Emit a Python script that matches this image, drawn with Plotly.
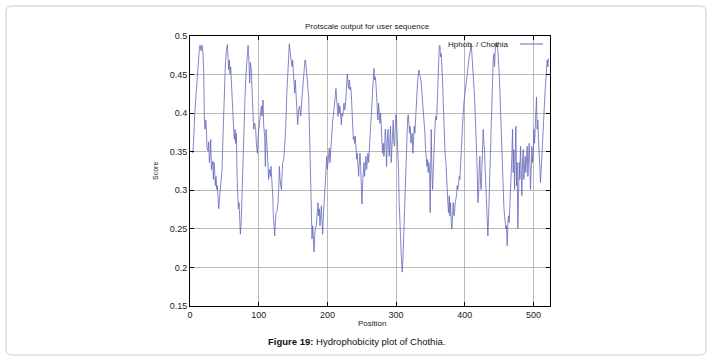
import plotly.graph_objects as go

# ---- data (position, Chothia hydrophobicity score) ----
positions = [
    4.0, 5.4, 6.9, 8.3, 9.3, 10.8, 12.2, 13.7, 14.6, 16.1, 17.1, 18.0, 19.0, 20.0, 20.9, 21.9, 22.9, 23.9,
    24.8, 26.3, 27.3, 28.2, 29.2, 30.2, 31.1, 32.1, 33.1, 34.0, 35.0, 36.0, 36.9, 37.9, 38.9, 39.8, 40.8,
    41.8, 42.8, 43.7, 44.7, 45.7, 46.6, 47.6, 48.6, 49.5, 50.5, 51.5, 53.0, 54.4, 55.4, 56.3, 57.3, 58.3,
    59.2, 60.2, 61.2, 62.1, 63.6, 64.6, 65.5, 66.5, 67.5, 68.5, 69.4, 70.4, 71.4, 72.3, 73.3, 74.3, 75.2,
    76.2, 77.2, 78.6, 80.1, 81.5, 83.0, 84.5,
    85.4, 86.9, 87.9, 89.3, 90.3, 91.3, 92.7, 94.2, 95.6, 96.6, 98.1, 99.5, 101.0, 102.4, 103.9, 104.8,
    106.3, 107.3, 108.7, 109.7, 110.7, 112.1, 113.6, 114.5, 115.5, 117.0, 117.9, 119.4, 120.4, 121.3,
    122.3, 123.3, 124.2, 125.2, 126.7, 128.1, 129.1, 130.1, 131.0, 132.0, 133.0, 133.9, 134.9, 136.4,
    137.8, 139.3, 140.7, 142.2, 143.6, 144.6, 145.6, 147.0, 148.5, 149.4, 150.4, 151.4, 152.4, 153.3,
    154.3, 155.7, 156.7, 158.2, 159.6, 161.1, 162.0, 163.5, 165.0, 166.4, 167.4, 168.8, 170.3, 171.7,
    172.7, 173.7, 175.0,
    175.7, 176.6, 177.6, 178.6, 179.5, 180.5, 181.5, 182.4, 183.9, 185.4, 186.3, 187.3, 188.3, 189.2,
    190.2, 191.2, 192.1, 193.1, 194.1, 195.0, 196.0, 197.0, 198.0, 198.9, 199.9, 200.9, 201.8, 202.8,
    203.8, 204.7, 205.7, 206.7, 207.7, 208.6, 209.6, 210.6, 211.5, 212.5, 213.5, 214.4, 215.4, 216.4,
    217.4, 218.3, 219.3, 220.3, 221.2, 222.2, 223.2, 224.1, 225.1, 226.1, 227.0, 228.0, 229.0, 230.0,
    230.9, 231.9, 232.9, 233.8, 234.8, 235.8, 236.7, 237.7, 238.7, 239.7, 240.6, 241.6, 242.6, 243.5,
    244.5, 245.5, 246.4, 247.4, 248.4, 249.3, 250.3, 251.3, 252.3, 253.2, 254.2, 255.2, 256.1, 257.1,
    258.1, 259.0, 260.0, 261.0, 262.0,
    262.9, 263.8, 264.8, 265.8, 266.7, 267.7, 268.7, 269.6, 270.6, 271.6, 272.6, 273.5, 274.5, 275.5,
    276.4, 277.4, 278.4, 279.3, 280.3, 281.3, 282.2, 283.2, 284.2, 285.2, 286.1, 287.1, 288.1, 289.0,
    290.0, 291.0, 291.9, 292.9, 293.9, 294.9, 295.8, 296.8, 297.8, 298.7, 299.7, 300.7, 301.6, 302.6,
    303.6, 304.5, 305.5, 306.5, 307.5, 308.4, 308.9, 309.9, 310.9, 311.8, 312.8, 313.8, 314.7, 315.7,
    316.7, 317.6, 318.6, 319.6, 320.5, 321.5, 322.5, 323.5, 324.4, 325.4, 326.4, 327.3, 328.3, 329.3,
    330.2, 331.2, 332.2, 333.2, 334.1, 335.1, 336.1, 337.0, 338.0, 339.0, 339.9, 340.9, 341.9, 342.9,
    343.8, 344.8, 345.8, 346.7, 347.7, 348.7, 349.6,
    350.2, 351.1, 352.1, 353.1, 354.0, 355.0, 356.0, 357.0, 357.9, 358.9, 359.9, 360.8, 361.8, 362.8,
    363.7, 364.7, 365.7, 366.6, 367.6, 368.6, 369.5, 370.5, 371.5, 372.5, 373.4, 374.4, 375.4, 376.3,
    377.3, 378.3, 379.2, 380.2, 381.2, 382.2, 383.1, 384.1, 385.1, 386.0, 387.0, 388.0, 388.9, 389.9,
    390.9, 391.9, 392.8, 393.8, 394.8, 395.7, 396.7, 397.7, 398.6, 399.6, 400.6, 401.5, 402.5, 403.5,
    404.5, 405.4, 406.4, 407.4, 408.3, 409.3, 410.3, 411.2, 412.2, 413.2, 414.2, 415.1, 416.1, 417.1,
    418.0, 419.0, 420.0, 420.9, 421.9, 422.9, 423.8, 424.8, 425.8, 426.8, 427.7, 428.7, 429.7, 430.6,
    431.6, 432.6, 433.6, 434.5, 435.5,
    436.5, 437.5, 438.4, 439.4, 440.4, 441.3, 442.3, 443.3, 444.2, 445.2, 446.2, 447.2, 448.1, 449.1,
    450.1, 451.0, 452.0, 453.0, 453.9, 454.9, 455.9, 456.8, 457.8, 458.8, 459.8, 460.7, 461.7, 462.7,
    463.6, 464.6, 465.6, 466.5, 467.5, 468.5, 469.5, 470.4, 471.4, 472.4, 473.3, 474.3, 475.3, 476.2,
    477.2, 478.2, 479.2, 480.1, 481.1, 482.1, 483.0, 484.0, 485.0, 485.9, 486.9, 487.9, 488.8, 489.8,
    490.8, 491.8, 492.7, 493.7, 494.7, 495.6, 496.6, 497.6, 498.5, 499.5, 500.5, 501.5, 502.4, 503.4,
    504.4, 505.3, 506.3, 507.3, 508.2, 509.2, 510.2, 511.2, 512.1, 513.1, 514.1, 515.0, 516.0, 517.0,
    518.0, 518.9, 519.9, 520.9, 521.8,
]

scores = [
    0.348, 0.366, 0.400, 0.417, 0.436, 0.451, 0.477, 0.484, 0.488, 0.481, 0.488, 0.486, 0.475, 0.451, 0.394, 0.379, 0.391, 0.379,
    0.355, 0.351, 0.363, 0.336, 0.344, 0.366, 0.327, 0.336, 0.338, 0.314, 0.336, 0.323, 0.306, 0.318, 0.301, 0.306, 0.293,
    0.276, 0.288, 0.297, 0.301, 0.314, 0.327, 0.357, 0.391, 0.409, 0.434, 0.464, 0.481, 0.489, 0.473, 0.456, 0.469, 0.451,
    0.460, 0.439, 0.413, 0.396, 0.379, 0.366, 0.379, 0.361, 0.374, 0.318, 0.301, 0.276, 0.284, 0.267, 0.243, 0.254, 0.284,
    0.314, 0.344, 0.383, 0.421, 0.451, 0.473, 0.488,
    0.475, 0.439, 0.466, 0.456, 0.430, 0.391, 0.379, 0.387, 0.379, 0.361, 0.348, 0.374, 0.387, 0.404, 0.409, 0.396,
    0.417, 0.383, 0.370, 0.331, 0.379, 0.357, 0.331, 0.314, 0.327, 0.318, 0.331, 0.310, 0.293, 0.267,
    0.254, 0.241, 0.258, 0.271, 0.273, 0.284, 0.301, 0.331, 0.314, 0.306, 0.301, 0.318, 0.336, 0.340,
    0.357, 0.379, 0.421, 0.456, 0.473, 0.490, 0.481, 0.473, 0.460, 0.469, 0.447, 0.439, 0.426, 0.443,
    0.421, 0.404, 0.385, 0.404, 0.409, 0.396, 0.413, 0.426, 0.443, 0.460, 0.469, 0.464, 0.447, 0.428,
    0.421, 0.387, 0.340,
    0.284, 0.258, 0.237, 0.254, 0.228, 0.220, 0.241, 0.250, 0.254, 0.267, 0.284, 0.267, 0.276, 0.254,
    0.267, 0.280, 0.263, 0.243, 0.267, 0.288, 0.301, 0.310, 0.327, 0.344, 0.327, 0.336, 0.344, 0.355,
    0.336, 0.353, 0.366, 0.379, 0.391, 0.396, 0.404, 0.413, 0.417, 0.432, 0.417, 0.404, 0.396, 0.413,
    0.400, 0.409, 0.396, 0.385, 0.400, 0.396, 0.404, 0.413, 0.404, 0.409, 0.421, 0.439, 0.451, 0.439,
    0.432, 0.443, 0.430, 0.434, 0.426, 0.404, 0.387, 0.366, 0.370, 0.361, 0.370, 0.353, 0.340, 0.348,
    0.331, 0.318, 0.336, 0.348, 0.331, 0.314, 0.282, 0.310, 0.323, 0.336, 0.318, 0.331, 0.344, 0.327,
    0.340, 0.348, 0.336, 0.353, 0.366,
    0.387, 0.400, 0.413, 0.430, 0.439, 0.458, 0.443, 0.447, 0.439, 0.421, 0.400, 0.391, 0.413, 0.396,
    0.387, 0.400, 0.383, 0.374, 0.348, 0.361, 0.344, 0.353, 0.379, 0.366, 0.331, 0.361, 0.379, 0.361,
    0.344, 0.366, 0.383, 0.336, 0.361, 0.383, 0.391, 0.361, 0.357, 0.379, 0.398, 0.391, 0.374, 0.353,
    0.323, 0.284, 0.250, 0.233, 0.216, 0.203, 0.194, 0.211, 0.241, 0.276, 0.306, 0.336, 0.361, 0.379,
    0.391, 0.398, 0.387, 0.374, 0.383, 0.361, 0.370, 0.374, 0.348, 0.366, 0.383, 0.374, 0.396, 0.413,
    0.430, 0.439, 0.451, 0.456, 0.451, 0.447, 0.443, 0.434, 0.421, 0.417, 0.409, 0.391, 0.374, 0.353,
    0.336, 0.331, 0.340, 0.323, 0.336, 0.327, 0.271,
    0.366, 0.379, 0.327, 0.301, 0.323, 0.353, 0.379, 0.391, 0.396, 0.391, 0.413, 0.443, 0.473, 0.486,
    0.488, 0.473, 0.477, 0.464, 0.443, 0.413, 0.383, 0.361, 0.344, 0.336, 0.310, 0.293, 0.282, 0.271,
    0.293, 0.267, 0.284, 0.258, 0.250, 0.267, 0.284, 0.267, 0.271, 0.284, 0.288, 0.293, 0.306, 0.301,
    0.310, 0.318, 0.314, 0.336, 0.357, 0.379, 0.391, 0.400, 0.413, 0.421, 0.430, 0.439, 0.447, 0.456,
    0.460, 0.464, 0.473, 0.477, 0.481, 0.490, 0.477, 0.464, 0.460, 0.443, 0.421, 0.400, 0.379, 0.357,
    0.327, 0.284, 0.293, 0.327, 0.344, 0.310, 0.301, 0.327, 0.366, 0.379, 0.361, 0.353, 0.327, 0.301,
    0.267, 0.250, 0.241, 0.262, 0.293,
    0.336, 0.379, 0.409, 0.434, 0.456, 0.469, 0.477, 0.460, 0.481, 0.490, 0.486, 0.490, 0.481, 0.469,
    0.451, 0.430, 0.400, 0.379, 0.344, 0.314, 0.297, 0.280, 0.267, 0.258, 0.250, 0.254, 0.228, 0.258,
    0.267, 0.258, 0.276, 0.293, 0.327, 0.344, 0.379, 0.323, 0.353, 0.301, 0.336, 0.383, 0.306, 0.336,
    0.250, 0.284, 0.336, 0.314, 0.357, 0.327, 0.293, 0.336, 0.353, 0.314, 0.336, 0.344, 0.323, 0.336,
    0.357, 0.318, 0.344, 0.361, 0.336, 0.301, 0.327, 0.357, 0.336, 0.344, 0.379, 0.361, 0.379, 0.404,
    0.421, 0.379, 0.391, 0.366, 0.344, 0.327, 0.310, 0.327, 0.340, 0.357, 0.370, 0.391, 0.413, 0.430,
    0.447, 0.464, 0.469, 0.460, 0.471,
]

y_tick_vals = [0.15, 0.2, 0.25, 0.3, 0.35, 0.4, 0.45, 0.5]
y_tick_text = ["0.15", "0.2", "0.25", "0.3", "0.35", "0.4", "0.45", "0.5"]
x_tick_vals = [0, 100, 200, 300, 400, 500]
x_tick_text = ["0", "100", "200", "300", "400", "500"]

series_name = "Hphob. / Chothia"
LINE_COLOR = "#6267b9"
FONT = "Liberation Sans, Arial, sans-serif"

W, H = 713, 361
L, R, T, B = 190, 550, 36, 306  # plot area in pixels


def px(x):
    return (x - L) / (R - L)


def py(y):
    return (B - y) / (B - T)


fig = go.Figure()
fig.add_trace(go.Scatter(x=positions, y=scores, mode="lines",
                         line=dict(color=LINE_COLOR, width=0.8),
                         name=series_name, showlegend=False))

axis_common = dict(showline=True, linecolor="#000000", linewidth=1, mirror="ticks",
                   ticks="inside", ticklen=4, tickcolor="#000000",
                   showgrid=True, gridcolor="#b8b8b8", gridwidth=1, zeroline=False,
                   tickfont=dict(family=FONT, size=9, color="#222222"))

fig.update_xaxes(range=[0, 524], tickvals=x_tick_vals, ticktext=x_tick_text, **axis_common)
fig.update_yaxes(range=[0.15, 0.5], tickvals=y_tick_vals, ticktext=y_tick_text, **axis_common)

# rounded outer frame
x0, x1, y0, y1, r = 6, 706, 6, 355, 6
rx, ry = r / (R - L), r / (B - T)
X0, X1, Y0, Y1 = px(x0), px(x1), py(y1), py(y0)
path = (f"M {X0+rx},{Y0} L {X1-rx},{Y0} Q {X1},{Y0} {X1},{Y0+ry} L {X1},{Y1-ry} "
        f"Q {X1},{Y1} {X1-rx},{Y1} L {X0+rx},{Y1} Q {X0},{Y1} {X0},{Y1-ry} "
        f"L {X0},{Y0+ry} Q {X0},{Y0} {X0+rx},{Y0} Z")
shapes = [dict(type="path", path=path, xref="paper", yref="paper",
               line=dict(color="#c9c9c9", width=1), layer="below"),
          dict(type="line", xref="paper", yref="paper", x0=px(520), x1=px(543),
               y0=py(44), y1=py(44), line=dict(color=LINE_COLOR, width=1))]

annotations = [
    dict(text="Protscale output for user sequence", x=px(367), y=py(26), xref="paper", yref="paper",
         showarrow=False, xanchor="center", yanchor="middle",
         font=dict(family=FONT, size=8, color="#222222")),
    dict(text="Position", x=px(372), y=py(323), xref="paper", yref="paper",
         showarrow=False, xanchor="center", yanchor="middle",
         font=dict(family=FONT, size=8, color="#222222")),
    dict(text="Score", x=px(155), y=py(171), xref="paper", yref="paper", textangle=-90,
         showarrow=False, xanchor="center", yanchor="middle",
         font=dict(family=FONT, size=7, color="#222222")),
    dict(text=series_name, x=px(511), y=py(44), xref="paper", yref="paper",
         showarrow=False, xanchor="right", yanchor="middle",
         font=dict(family=FONT, size=8, color="#222222")),
    dict(text="<b>Figure 19:</b> Hydrophobicity plot of Chothia.", x=px(356), y=py(341),
         xref="paper", yref="paper", showarrow=False, xanchor="center", yanchor="middle",
         font=dict(family=FONT, size=9.5, color="#111111")),
]

fig.update_layout(width=W, height=H, margin=dict(l=L, r=W - R, t=T, b=H - B),
                  paper_bgcolor="white", plot_bgcolor="white",
                  shapes=shapes, annotations=annotations, showlegend=False)

fig.write_html("out.html", config={"displayModeBar": False},
               post_script="document.body.style.margin='0';document.body.style.overflow='hidden';")
